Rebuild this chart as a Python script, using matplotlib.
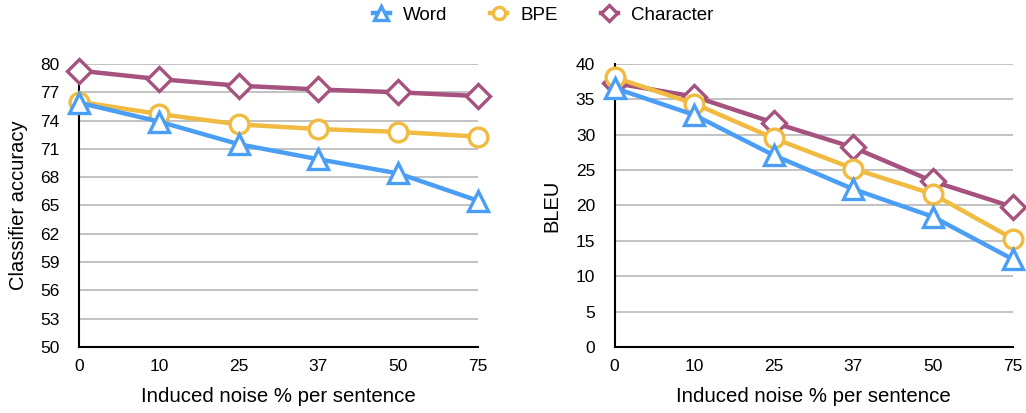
import matplotlib.pyplot as plt
import numpy as np

plt.rcParams['font.family'] = ['Liberation Sans', 'DejaVu Sans']

noise = ["0", "10", "25", "37", "50", "75"]

acc_word = [75.9, 73.9, 71.5, 69.9, 68.4, 65.5]
acc_bpe = [76.0, 74.7, 73.6, 73.1, 72.8, 72.3]
acc_char = [79.3, 78.4, 77.7, 77.3, 77.0, 76.6]

bleu_word = [36.6, 32.8, 27.1, 22.3, 18.4, 12.4]
bleu_bpe = [38.1, 34.4, 29.5, 25.2, 21.6, 15.3]
bleu_char = [37.3, 35.4, 31.7, 28.2, 23.4, 19.8]

c_word = "#4a9ff5"
c_bpe = "#f0bb40"
c_char = "#a6527e"

fig = plt.figure(figsize=(10.26, 4.13), dpi=100)
ax1 = fig.add_axes([0.077, 0.160, 0.389, 0.685])
ax2 = fig.add_axes([0.599, 0.160, 0.388, 0.685])

x = np.arange(len(noise))


def draw(ax, word, bpe, char):
    common = dict(lw=3.2, mew=2.4, mfc="white", clip_on=False)
    ax.plot(x, word, color=c_word, marker="^", ms=14.5, label="Word", zorder=5, **common)
    ax.plot(x, bpe, color=c_bpe, marker="o", ms=13.5, label="BPE", zorder=4, **common)
    ax.plot(x, char, color=c_char, marker="D", ms=12.5, label="Character", zorder=3, **common)
    ax.set_xlim(0, len(noise) - 1)
    ax.set_xticks(x)
    ax.set_xticklabels(noise)
    ax.spines["top"].set_visible(False)
    ax.spines["right"].set_visible(False)
    ax.spines["left"].set_linewidth(1.5)
    ax.spines["bottom"].set_linewidth(1.5)
    ax.grid(axis="y", color="#bdbdbd", lw=1.3)
    ax.set_axisbelow(True)
    ax.tick_params(length=0, labelsize=12.5)
    ax.tick_params(axis="x", pad=9)
    ax.tick_params(axis="y", pad=14)
    ax.set_xlabel("Induced noise % per sentence", fontsize=14.7, labelpad=9)


draw(ax1, acc_word, acc_bpe, acc_char)
ax1.set_ylim(50, 80)
ax1.set_yticks(np.arange(50, 81, 3))
ax1.set_ylabel("Classifier accuracy", fontsize=14.5, labelpad=9)

draw(ax2, bleu_word, bleu_bpe, bleu_char)
ax2.set_ylim(0, 40)
ax2.set_yticks(np.arange(0, 41, 5))
ax2.set_ylabel("BLEU", fontsize=14.5, labelpad=10)

h, l = ax1.get_legend_handles_labels()
fig.legend(h, l, loc="upper left", bbox_to_anchor=(0.347, 1.025), ncol=3,
           frameon=False, fontsize=13.5, markerscale=0.65, handlelength=0.9,
           columnspacing=2.3, handletextpad=0.7)

fig.savefig("out.png", dpi=100)
